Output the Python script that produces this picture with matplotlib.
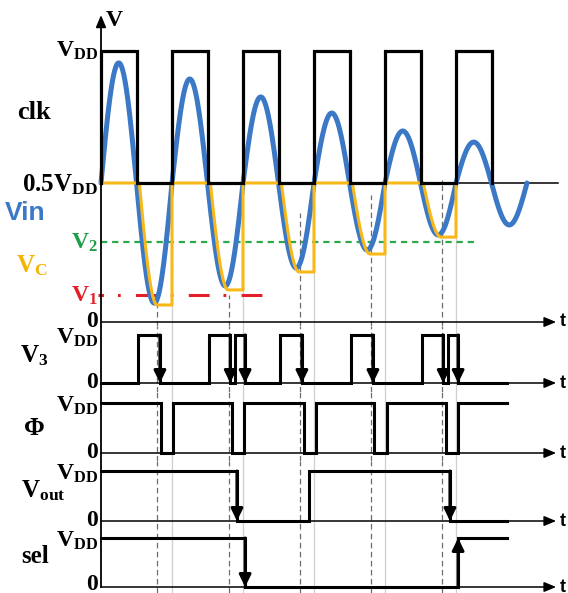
import matplotlib
matplotlib.use('Agg')
import matplotlib.pyplot as plt
import numpy as np
from matplotlib.transforms import blended_transform_factory

plt.rcParams['mathtext.fontset'] = 'custom'
plt.rcParams['mathtext.rm'] = 'Liberation Serif:bold'
plt.rcParams['mathtext.it'] = 'Liberation Serif:bold'
plt.rcParams['mathtext.bf'] = 'Liberation Serif:bold'
plt.rcParams['lines.scale_dashes'] = False

# ---------------- data (time in clock periods, voltage in VDD) ----------------
clk_edges = [0.0, 0.5, 1.0, 1.5, 2.0, 2.5, 3.0, 3.5, 4.0, 4.5, 5.0, 5.5]
clk_high, clk_low = 1.0, 0.5
vin_half_amp = [0.455, 0.455, 0.394, 0.390, 0.326, 0.322,
                0.265, 0.254, 0.197, 0.197, 0.155, 0.159]
vin_end = 6.0
vc_hold = [0.038, 0.095, 0.163, 0.231, 0.295]   # held level of Vc
vc_lag = 0.04
V1_level, V2_level = 0.076, 0.277
V1_span = (-0.04, 2.35)
V2_span = (0.0, 5.31)
guide_dash_t = [0.79, 1.80, 2.80, 3.80, 4.80]
guide_dash_top = [0.045, 0.076, 0.386, 0.455, 0.511]
guide_solid_t = [1.0, 2.0, 3.0, 4.0, 5.0]
v3_edges = [0.52, 0.83, 1.52, 1.82, 1.89, 2.03, 2.52, 2.83,
            3.52, 3.83, 4.52, 4.82, 4.89, 5.03]
phi_edges = [0.845, 1.01, 1.845, 2.02, 2.86, 3.03, 3.85, 4.03, 4.86, 5.03]
vout_edges = [1.915, 2.93, 4.915]
sel_edges = [2.03, 5.03]
sig_end = 5.72
axis_end = 6.41
mid_line_end = 6.44

# ---------------- layout ----------------
W, H = 568, 593
fig = plt.figure(figsize=(W / 100, H / 100), dpi=100)
X0, XS = 101.0, 71.0  # px of t=0, px per clock period
XLIM = (-X0 / XS, (W - X0) / XS)

BLUE, YEL, GRN, RED = '#3b78c6', '#f8b818', '#2aa84a', '#e3202a'
LW_SIG, LW_AX = 2.2, 1.1
FS = 17


def panel(ytop, ybot, y_one, y_zero, one=1.0, zero=0.0):
    ax = fig.add_axes([0, 1 - ybot / H, 1, (ybot - ytop) / H])
    unit = (y_zero - y_one) / (one - zero)
    ax.set_xlim(*XLIM)
    ax.set_ylim(zero - (ybot - y_zero) / unit, one + (y_one - ytop) / unit)
    ax.axis('off')
    return ax


def px2v(ax, ypx):
    inv = ax.transData.inverted()
    return inv.transform(fig.transFigure.transform((0, 1 - ypx / H)))[1]


def steps(edges, start, t_end, lo=0.0, hi=1.0):
    ts, vs = [0.0], [start]
    lev = start
    for e in edges:
        new = lo if lev == hi else hi
        ts += [e, e]
        vs += [lev, new]
        lev = new
    ts.append(t_end)
    vs.append(lev)
    return ts, vs


def lab(ax, xpx, ypx, s, color='black', size=FS, ha='right', family='Liberation Serif', va='center'):
    ax.text(xpx / W, 1 - ypx / H, s, transform=fig.transFigure, ha=ha, va=va, color=color,
            fontsize=size, fontweight='bold', family=family, clip_on=False)


def taxis(ax, y):
    ax.annotate('', xy=(axis_end, y), xytext=(0, y),
                arrowprops=dict(arrowstyle='-|>,head_length=0.6,head_width=0.25', mutation_scale=12,
                                lw=LW_AX, color='black', shrinkA=0, shrinkB=0), zorder=3)
    tr = blended_transform_factory(fig.transFigure, ax.transData)
    ax.text(560 / W, y, 't', transform=tr, ha='left', va='center', fontsize=13,
            fontweight='bold', family='Liberation Sans', clip_on=False)


def edge_arrow(ax, t, frm, to):
    ax.annotate('', xy=(t, to), xytext=(t, frm),
                arrowprops=dict(arrowstyle='-|>,head_length=0.45,head_width=0.22', mutation_scale=16,
                                lw=LW_SIG, color='black', shrinkA=0, shrinkB=0), zorder=5)


def guides(ax, full=True):
    y0, y1 = ax.get_ylim()
    for t, top in zip(guide_dash_t, guide_dash_top):
        ax.plot([t, t], [y0, y1 if full else top], color='#6e6e6e', lw=0.9,
                dashes=(4, 2.5), zorder=1)
    for i, t in enumerate(guide_solid_t):
        ax.plot([t, t], [y0, y1 if full else vc_hold[i]], color='#cfcfcf', lw=0.9, zorder=1)


# ---------------- top panel ----------------
ax0 = panel(0, 326, 51, 183, one=1.0, zero=0.5)
guides(ax0, full=False)
ybot0 = ax0.get_ylim()[0]
v_top_arrow = px2v(ax0, 15)
ax0.annotate('', xy=(0, v_top_arrow), xytext=(0, ybot0),
             arrowprops=dict(arrowstyle='-|>,head_length=0.6,head_width=0.25', mutation_scale=12,
                             lw=1.3, color='black', shrinkA=0, shrinkB=0), zorder=6)
v_zero_axis = px2v(ax0, 322)
taxis(ax0, v_zero_axis)
ax0.plot([0, mid_line_end], [0.5, 0.5], color='black', lw=LW_AX, zorder=2)

# V2 and V1 reference lines
ax0.plot(V2_span, [V2_level] * 2, color=GRN, lw=1.6, dashes=(4.5, 3.5), zorder=2)
ax0.plot(V1_span, [V1_level] * 2, color=RED, lw=2.2,
         linestyle=(11, (15, 10, 2, 11)), dash_capstyle='butt', zorder=2)

# Vin
tv, vv = [], []
for i, a in enumerate(vin_half_amp):
    t = np.linspace(i * 0.5, min((i + 1) * 0.5, vin_end), 60)
    tv.append(t)
    vv.append(0.5 + a * np.sin(2 * np.pi * t))
tv = np.concatenate(tv)
vv = np.concatenate(vv)
ax0.plot(tv, vv, color=BLUE, lw=3.6, solid_capstyle='round', zorder=4)

# Vc : reset at 0.5 VDD while clk high, tracks Vin down, holds its minimum
tc, vc = [], []
for k, lvl in enumerate(vc_hold):
    depth = 0.5 - lvl
    tc += [k, k + 0.5 + vc_lag]
    vc += [0.5, 0.5]
    t = np.linspace(k + 0.5 + vc_lag, k + 0.75 + vc_lag, 40)
    tc += list(t)
    vc += list(0.5 - depth * np.sin(2 * np.pi * (t - k - 0.5 - vc_lag)))
    tc += [k + 1, k + 1]
    vc += [lvl, 0.5]
ax0.plot(tc, vc, color=YEL, lw=2.2, zorder=5)

# clk
ts, vs = steps(clk_edges[1:], clk_high, clk_edges[-1], lo=clk_low, hi=clk_high)
ts = [0.0] + ts
vs = [clk_low] + vs
ax0.plot(ts, vs, color='black', lw=2.3, zorder=6, solid_joinstyle='miter')

lab(ax0, 106, 26, 'V', ha='left', va='baseline')
lab(ax0, 98, 57, r'$\mathrm{V}_{\mathrm{DD}}$', va='baseline')
lab(ax0, 17, 119, 'clk', ha='left', va='baseline', size=19)
lab(ax0, 98, 191, r'$\mathrm{0.5V}_{\mathrm{DD}}$', va='baseline', size=18)
lab(ax0, 5, 220, 'Vin', ha='left', va='baseline', color=BLUE, size=19, family='Liberation Sans')
lab(ax0, 98, 249, r'$\mathrm{V}_{\mathrm{2}}$', va='baseline', color='#1f9e48')
lab(ax0, 16, 272, r'$\mathrm{V}_{\mathrm{C}}$', ha='left', va='baseline', color='#f5b400', size=18)
lab(ax0, 98, 302, r'$\mathrm{V}_{\mathrm{1}}$', va='baseline', color=RED)
lab(ax0, 98, 327, '0', va='baseline')

# ---------------- lower panels ----------------
panels = [
    (326, 392, 335, 383, v3_edges, 0.0, r'$\mathrm{V}_{\mathrm{3}}$', 20, 362),
    (392, 461, 403, 453, phi_edges, 1.0, 'Φ', 24, 435),
    (461, 529, 471, 521, vout_edges, 1.0, r'$\mathrm{V}_{\mathrm{out}}$', 21, 497),
    (529, 593, 538, 587, sel_edges, 1.0, 'sel', 21, 563),
]
axes = []
for (yt, yb, y1, y0, edges, start, name, nx, ny) in panels:
    ax = panel(yt, yb, y1, y0)
    axes.append(ax)
    guides(ax, full=True)
    lo_lim, hi_lim = ax.get_ylim()
    ax.plot([0, 0], [0 if name == 'sel' else lo_lim, hi_lim], color='black', lw=1.3, zorder=3)
    taxis(ax, 0.0)
    ts, vs = steps(edges, start, sig_end)
    ax.plot(ts, vs, color='black', lw=LW_SIG, zorder=4, solid_joinstyle='miter')
    lab(ax, 98, y1 + 9, r'$\mathrm{V}_{\mathrm{DD}}$', va='baseline')
    lab(ax, 98, min(y0 + 5, 590), '0', va='baseline')
    lab(ax, nx, ny, name, ha='left', va='baseline', size=18)

# arrows on edges
ax_v3, ax_phi, ax_vout, ax_sel = axes
lev = 0.0
for e in v3_edges:
    new = 1.0 - lev
    if new == 0.0:
        edge_arrow(ax_v3, e, 1.0, 0.0)
    lev = new
lev = 1.0
for e in vout_edges:
    new = 1.0 - lev
    if new == 0.0:
        edge_arrow(ax_vout, e, 1.0, 0.0)
    lev = new
lev = 1.0
for e in sel_edges:
    new = 1.0 - lev
    edge_arrow(ax_sel, e, lev, new)
    lev = new

fig.savefig('out.png', dpi=100)
